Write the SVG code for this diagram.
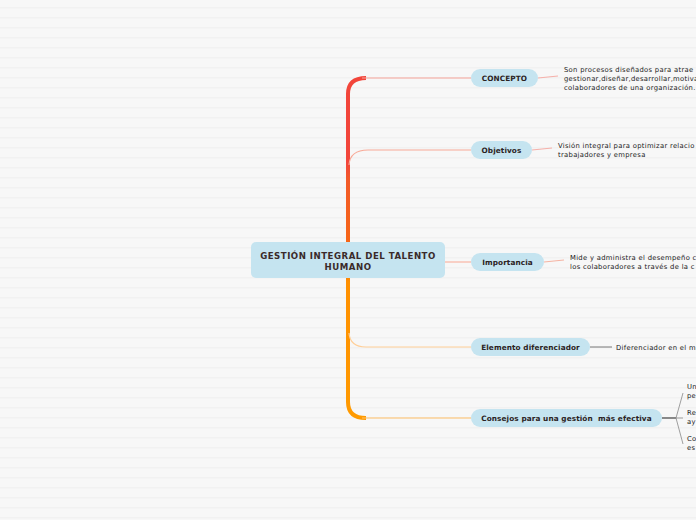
<svg xmlns="http://www.w3.org/2000/svg" width="696" height="520" viewBox="0 0 696 520">
<defs>
<pattern id="stripes" x="0" y="0" width="696" height="10" patternUnits="userSpaceOnUse">
<rect x="0" y="0" width="696" height="10" fill="#f7f7f7"/>
<rect x="0" y="7" width="696" height="1.5" fill="#f1f1f1"/>
</pattern>
<linearGradient id="trunk" x1="0" y1="78" x2="0" y2="418" gradientUnits="userSpaceOnUse">
<stop offset="0" stop-color="#f2453a"/>
<stop offset="0.25" stop-color="#f2453a"/>
<stop offset="0.3" stop-color="#f25a28"/>
<stop offset="0.55" stop-color="#f86a10"/>
<stop offset="0.6" stop-color="#ff9000"/>
<stop offset="1" stop-color="#ff9a00"/>
</linearGradient>
<style>
.node{fill:#c5e4f0}
.lbl{font-family:"DejaVu Sans",Verdana,sans-serif;font-weight:bold;font-size:7.3px;fill:#2b2222;text-anchor:middle;letter-spacing:0.1px}
.title{font-family:"DejaVu Sans",Verdana,sans-serif;font-weight:bold;font-size:8.6px;fill:#3a2a2a;text-anchor:middle;letter-spacing:0.5px}
.leaf{font-family:"DejaVu Sans",Verdana,sans-serif;font-size:6.8px;fill:#222;letter-spacing:0.3px}
.br{fill:none;stroke-width:1.2}
</style>
</defs>
<rect width="696" height="520" fill="url(#stripes)"/>
<g id="connectors">
<path d="M348,252 V94 Q348,78 366,78" fill="none" stroke="url(#trunk)" stroke-width="4"/>
<path d="M348,252 V402 Q348,418 366,418" fill="none" stroke="url(#trunk)" stroke-width="4"/>
<path class="br" d="M362,78 H471" stroke="#f5a39a"/>
<path class="br" d="M349,165 Q350,150 368,150 H471" stroke="#f8aa98"/>
<path class="br" d="M445,262 H471" stroke="#f8b4a4"/>
<path class="br" d="M349,333 Q350,347 366,347 H471" stroke="#ffcf98"/>
<path class="br" d="M362,418 H471" stroke="#ffc068"/>
<path class="br" d="M538,78 Q548,77 558,76" stroke="#f5b0aa"/>
<path class="br" d="M532,150 Q542,149 552,148" stroke="#f5b0aa"/>
<path class="br" d="M544,262 Q554,261 564,260" stroke="#f5b4a4"/>
<path d="M590,347 H612" fill="none" stroke="#777" stroke-width="1"/>
<path d="M662,418 H676" fill="none" stroke="#444" stroke-width="1.2"/>
<path d="M676,418 L683,393 M676,418 H683 M676,418 L683,444" fill="none" stroke="#888" stroke-width="0.8"/>
</g>
<g id="central">
<rect class="node" x="251" y="242" width="194" height="36" rx="5"/>
<text class="title" x="348" y="259">GESTIÓN INTEGRAL DEL TALENTO</text>
<text class="title" x="348" y="270">HUMANO</text>
</g>
<g id="concepto">
<rect class="node" x="471" y="69" width="67" height="18" rx="9"/>
<text class="lbl" x="504.5" y="80.5">CONCEPTO</text>
</g>
<g id="concepto-text">
<text class="leaf" x="564" y="72">Son procesos diseñados para atrae</text>
<text class="leaf" x="564" y="81">gestionar,diseñar,desarrollar,motiva</text>
<text class="leaf" x="564" y="90">colaboradores de una organización.</text>
</g>
<g id="objetivos">
<rect class="node" x="471" y="141" width="61" height="18" rx="9"/>
<text class="lbl" x="501.5" y="152.5">Objetivos</text>
</g>
<g id="objetivos-text">
<text class="leaf" x="558" y="148">Visión integral para optimizar relacio</text>
<text class="leaf" x="558" y="157">trabajadores y empresa</text>
</g>
<g id="importancia">
<rect class="node" x="471" y="253" width="73" height="18" rx="9"/>
<text class="lbl" x="507.5" y="264.5">Importancia</text>
</g>
<g id="importancia-text">
<text class="leaf" x="570" y="260">Mide y administra el desempeño c</text>
<text class="leaf" x="570" y="269">los colaboradores a través de la c</text>
</g>
<g id="elemento">
<rect class="node" x="471" y="338" width="119" height="18" rx="9"/>
<text class="lbl" x="530.5" y="349.5">Elemento diferenciador</text>
</g>
<g id="elemento-text">
<text class="leaf" x="616" y="350">Diferenciador en el m</text>
</g>
<g id="consejos">
<rect class="node" x="471" y="409" width="191" height="18" rx="9"/>
<text class="lbl" x="566.5" y="420.5" xml:space="preserve">Consejos para una gestión  más efectiva</text>
</g>
<g id="consejo1">
<text class="leaf" x="687" y="389">Un</text>
<text class="leaf" x="687" y="398">pe</text>
</g>
<g id="consejo2">
<text class="leaf" x="687" y="415">Re</text>
<text class="leaf" x="687" y="424">ay</text>
</g>
<g id="consejo3">
<text class="leaf" x="687" y="441">Co</text>
<text class="leaf" x="687" y="450">es</text>
</g>
</svg>
